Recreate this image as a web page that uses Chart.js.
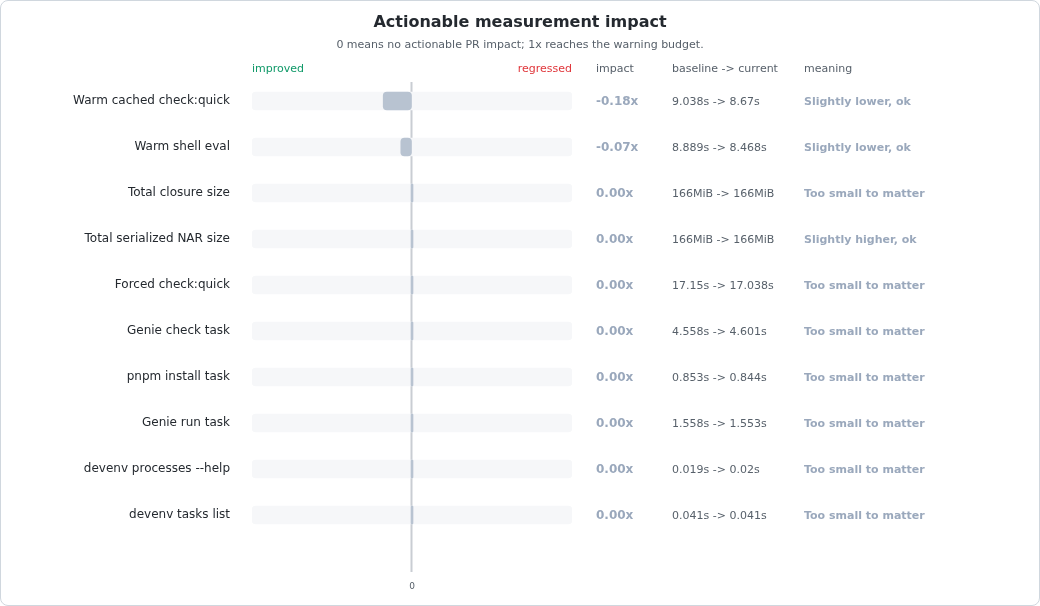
<!DOCTYPE html>
<html>
<head>
<meta charset="utf-8">
<script src="https://cdn.jsdelivr.net/npm/chart.js@4"></script>
<style>
  html, body { margin: 0; padding: 0; background: #fff; }
  .card {
    box-sizing: border-box;
    width: 1040px;
    height: 606px;
    border: 1px solid #d0d7de;
    border-radius: 8px;
    position: relative;
  }
</style>
</head>
<body>
<div class="card"><canvas id="impactChart"></canvas></div>
<script>
// measurement rows
const labels = [
    'Warm cached check:quick',
    'Warm shell eval',
    'Total closure size',
    'Total serialized NAR size',
    'Forced check:quick',
    'Genie check task',
    'pnpm install task',
    'Genie run task',
    'devenv processes --help',
    'devenv tasks list'
];
const impact = [-0.18, -0.07, 0, 0, 0, 0, 0, 0, 0, 0];
const baseline = ['9.038s', '8.889s', '166MiB', '166MiB', '17.15s', '4.558s', '0.853s', '1.558s', '0.019s', '0.041s'];
const current = ['8.67s', '8.468s', '166MiB', '166MiB', '17.038s', '4.601s', '0.844s', '1.553s', '0.02s', '0.041s'];
const meaning = [
    'Slightly lower, ok',
    'Slightly lower, ok',
    'Too small to matter',
    'Slightly higher, ok',
    'Too small to matter',
    'Too small to matter',
    'Too small to matter',
    'Too small to matter',
    'Too small to matter',
    'Too small to matter'
];
const budgetRange = [-1, 1]; // 1x = warning budget on either side

const titleText = 'Actionable measurement impact';
const subtitleText = '0 means no actionable PR impact; 1x reaches the warning budget.';

const FONT = "'DejaVu Sans', sans-serif";

// Title centred over the whole card (the built-in one centres over the plot only)
const headingPlugin = {
    id: 'heading',
    afterDraw(chart) {
        const { ctx, width } = chart;
        ctx.save();
        ctx.textAlign = 'center';
        ctx.textBaseline = 'middle';
        ctx.fillStyle = '#24292f';
        ctx.font = 'bold 16px ' + FONT;
        ctx.fillText(titleText, width / 2, 22);
        ctx.fillStyle = '#57606a';
        ctx.font = '11px ' + FONT;
        ctx.fillText(subtitleText, width / 2, 44);
        ctx.restore();
    }
};

// Zero line, drawn under the bars
const zeroLinePlugin = {
    id: 'zeroLine',
    beforeDatasetsDraw(chart) {
        const { ctx, chartArea, scales } = chart;
        const x = Math.round(scales.x.getPixelForValue(0)) - 0.5;
        ctx.save();
        ctx.strokeStyle = '#c9cdd3';
        ctx.lineWidth = 2;
        ctx.beginPath();
        ctx.moveTo(x, chartArea.top + 4);
        ctx.lineTo(x, chartArea.bottom + 34);
        ctx.stroke();
        ctx.restore();
    }
};

// Header row and the text columns to the right of the bars
const columnsPlugin = {
    id: 'columns',
    afterDatasetsDraw(chart) {
        const { ctx, chartArea, scales } = chart;
        const headY = chartArea.top - 9;
        const colImpact = chartArea.right + 24;
        const colChange = chartArea.right + 100;
        const colMeaning = chartArea.right + 232;

        ctx.save();
        ctx.textBaseline = 'middle';
        ctx.font = '11px ' + FONT;

        ctx.textAlign = 'left';
        ctx.fillStyle = '#0f9968';
        ctx.fillText('improved', chartArea.left, headY);
        ctx.textAlign = 'right';
        ctx.fillStyle = '#e0363b';
        ctx.fillText('regressed', chartArea.right, headY);

        ctx.textAlign = 'left';
        ctx.fillStyle = '#57606a';
        ctx.fillText('impact', colImpact, headY);
        ctx.fillText('baseline -> current', colChange, headY);
        ctx.fillText('meaning', colMeaning, headY);

        labels.forEach((label, i) => {
            const y = scales.y.getPixelForValue(i) + 1;
            ctx.font = 'bold 12px ' + FONT;
            ctx.fillStyle = '#9aa8bc';
            ctx.fillText(impact[i].toFixed(2) + 'x', colImpact, y);

            ctx.font = '11px ' + FONT;
            ctx.fillStyle = '#57606a';
            ctx.fillText(baseline[i] + ' -> ' + current[i], colChange, y);

            ctx.font = 'bold 11px ' + FONT;
            ctx.fillStyle = '#9aa8bc';
            ctx.fillText(meaning[i], colMeaning, y);
        });
        ctx.restore();
    }
};

const ctx = document.getElementById('impactChart').getContext('2d');

const impactChart = new Chart(ctx, {
    type: 'bar',
    data: {
        labels: labels,
        datasets: [
            {
                label: 'impact',
                data: impact.map(v => [v, 0]),
                backgroundColor: '#b8c3d1',
                borderRadius: 4,
                borderSkipped: false,
                barThickness: 18,
                minBarLength: 2,
                grouped: false,
                order: 0
            },
            {
                label: 'track',
                data: labels.map(() => budgetRange),
                backgroundColor: '#f6f7f9',
                borderRadius: 4,
                borderSkipped: false,
                barThickness: 18,
                grouped: false,
                order: 1
            }
        ]
    },
    options: {
        indexAxis: 'y',
        responsive: true,
        maintainAspectRatio: false,
        animation: false,
        layout: {
            padding: { left: 0, right: 467, top: 77, bottom: 0 }
        },
        plugins: {
            legend: { display: false },
            tooltip: { enabled: false },
            title: { display: false },
            subtitle: { display: false }
        },
        scales: {
            x: {
                min: -1,
                max: 1,
                border: { display: false },
                grid: {
                    color: 'transparent',
                    tickLength: 34
                },
                ticks: {
                    stepSize: 1,
                    color: '#57606a',
                    font: { family: FONT, size: 9 },
                    padding: 9,
                    callback: v => v === 0 ? '0' : ''
                },
                afterFit(scale) {
                    scale.height = 67;
                }
            },
            y: {
                border: { display: false },
                grid: { display: false, drawTicks: false },
                ticks: {
                    color: '#24292f',
                    font: { family: FONT, size: 12 },
                    padding: 22
                },
                afterFit(scale) {
                    scale.width = 251;
                }
            }
        }
    },
    plugins: [zeroLinePlugin, columnsPlugin, headingPlugin]
});
</script>
</body>
</html>
